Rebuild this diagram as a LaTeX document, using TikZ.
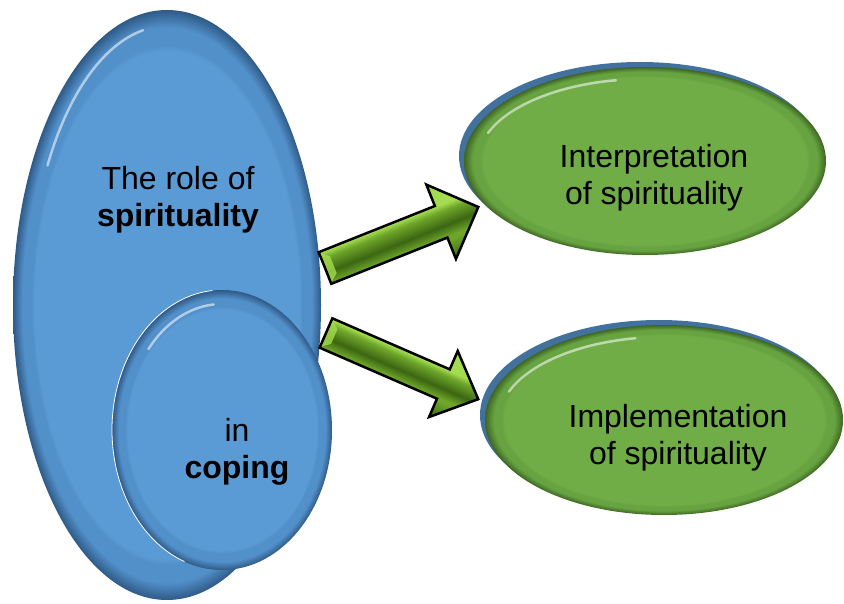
\documentclass[tikz,border=0pt]{standalone}
\usepackage{fontspec}
\setmainfont{Liberation Sans}
\usetikzlibrary{positioning}

% colours
\definecolor{blueface}{HTML}{5B9BD5}
\definecolor{bluerim}{HTML}{5290CA}
\definecolor{blueedge}{HTML}{2F5A86}
\definecolor{greenface}{HTML}{70AD47}
\definecolor{greenrim}{HTML}{67A340}
\definecolor{greenedge}{HTML}{3E6624}
\definecolor{rimblue}{HTML}{41719C}
\definecolor{arrowlight}{HTML}{A3DC4F}
\definecolor{arrowmid}{HTML}{6EA62A}
\definecolor{arrowdark}{HTML}{3C6612}

% bevelled faces
\pgfdeclareradialshading{bluebevel}{\pgfpoint{0bp}{0bp}}{%
  color(0bp)=(blueface); color(21.5bp)=(blueface); color(22bp)=(bluerim);
  color(23.5bp)=(bluerim); color(25bp)=(blueedge); color(50bp)=(blueedge)}
\pgfdeclareradialshading{greenbevel}{\pgfpoint{0bp}{0bp}}{%
  color(0bp)=(greenface); color(22.3bp)=(greenface); color(22.8bp)=(greenrim);
  color(23.8bp)=(greenrim); color(25bp)=(greenedge); color(50bp)=(greenedge)}
\pgfdeclareverticalshading{arrowbevel}{100bp}{%
  color(0bp)=(arrowdark); color(25bp)=(arrowdark); color(38bp)=(arrowmid);
  color(40bp)=(arrowmid); color(47bp)=(arrowdark); color(56bp)=(arrowmid);
  color(60bp)=(arrowlight); color(75bp)=(arrowlight); color(100bp)=(arrowlight)}

\begin{document}
\begin{tikzpicture}[x=1pt, y=1pt,
    label/.style={font=\fontsize{32}{37}\selectfont, align=center, inner sep=0pt, text=black},
    glint/.style={white, opacity=.55, line width=2.5pt, line cap=round},
    blockarrow/.style={shade, shading=arrowbevel, draw=black, line width=2.5pt, line join=miter}]

    \useasboundingbox (0,0) rectangle (844,603);

    % Big blue egg
    \shade[shading=bluebevel] (167,298) ellipse [x radius=154, y radius=295];
    \draw[glint] (167,298) ++(100:138 and 279) arc [start angle=100, end angle=150, x radius=138, y radius=279];

    % Small blue disc in front of it
    \shade[shading=bluebevel] (222,173) ellipse [x radius=110, y radius=140];
    \draw[white, line width=.8pt] (222,173) ++(95:110 and 140) arc [start angle=95, end angle=250, x radius=110, y radius=140];
    \draw[glint] (222,173) ++(95:96 and 126) arc [start angle=95, end angle=140, x radius=96, y radius=126];

    % Green dishes, blue rim behind
    \fill[rimblue] (640,447) ellipse [x radius=181, y radius=94];
    \shade[shading=greenbevel] (645,442) ellipse [x radius=181, y radius=94];
    \draw[glint] (645,442) ++(100:167 and 82) arc [start angle=100, end angle=160, x radius=167, y radius=82];

    \fill[rimblue] (659,188) ellipse [x radius=179, y radius=95];
    \shade[shading=greenbevel] (664,183) ellipse [x radius=179, y radius=95];
    \draw[glint] (664,183) ++(100:165 and 83) arc [start angle=100, end angle=160, x radius=165, y radius=83];

    % Arrows
    \coordinate (toptail) at (325,335);
    \coordinate (lowtail) at (326,270);
    \begin{scope}[transform canvas={shift={(toptail)}, rotate=21.7}]
        \path[blockarrow] (0,-17) -- (125,-17) -- (125,-40) -- (165,0) -- (125,40) -- (125,17) -- (0,17) -- cycle;
        \fill[arrowlight, opacity=.8] (1.5,-15) -- (9,-9) -- (9,9) -- (1.5,15) -- cycle;
    \end{scope}
    \begin{scope}[transform canvas={shift={(lowtail)}, rotate=-23.5}]
        \path[blockarrow] (0,-16) -- (128,-16) -- (128,-36) -- (166,0) -- (128,36) -- (128,16) -- (0,16) -- cycle;
        \fill[arrowlight, opacity=.8] (1.5,-14) -- (9,-8) -- (9,8) -- (1.5,14) -- cycle;
    \end{scope}

    % Labels
    \node[label] (roletxt) at (178,403) {The role of\\\textbf{spirituality}};
    \node[label] (copetxt) at (237,151) {in\\\textbf{coping}};
    \node[label] (interptxt) at (654,425) {Interpretation\\of spirituality};
    \node[label] (impltxt) at (678,165) {Implementation\\of spirituality};

\end{tikzpicture}
\end{document}
